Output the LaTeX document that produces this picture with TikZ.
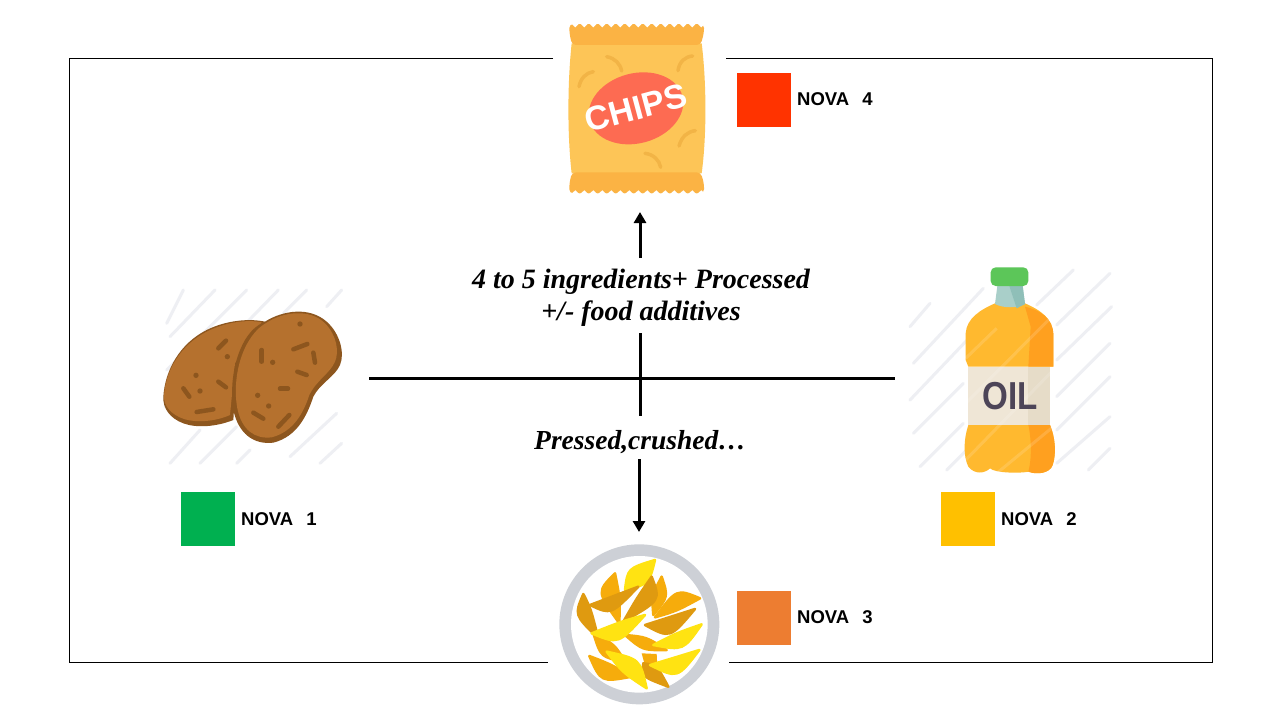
\documentclass[tikz,border=0pt]{standalone}
\usepackage{fontspec}
\setmainfont{Liberation Sans}
\newfontfamily\scriptfnt{Liberation Serif}
\usetikzlibrary{arrows.meta}
\definecolor{bagbody}{HTML}{FDC557}
\definecolor{bagband}{HTML}{FBB344}
\definecolor{bagmark}{HTML}{F2B446}
\definecolor{bagoval}{HTML}{FD6B52}
\definecolor{spud}{HTML}{B5712E}
\definecolor{spuddark}{HTML}{8D561E}
\definecolor{hatch}{HTML}{EEEFF3}
\definecolor{oilL}{HTML}{FFB92F}
\definecolor{oilR}{HTML}{FFA01F}
\definecolor{oillabel}{HTML}{EFE6D6}
\definecolor{oillabelR}{HTML}{E6DCC8}
\definecolor{neckL}{HTML}{A9CFC9}
\definecolor{neckR}{HTML}{8FBFB8}
\definecolor{oilcap}{HTML}{5CC659}
\definecolor{oilink}{HTML}{4D4558}
\definecolor{plate}{HTML}{CDD0D6}
\definecolor{friA}{HTML}{FFE312}
\definecolor{friB}{HTML}{F6AC0C}
\definecolor{friC}{HTML}{DF9A10}
\tikzset{
  novabox/.style={minimum size=54pt,inner sep=0pt,draw=none,anchor=north west},
  novatext/.style={font=\fontsize{18.5}{20}\selectfont\bfseries,anchor=west,inner sep=0pt},
  scripttext/.style={font=\scriptfnt\fontsize{28}{32}\selectfont\bfseries\itshape,align=center,inner sep=0pt},
  framelin/.style={draw=black,line width=1pt},
  axis/.style={draw=black,line width=3pt},
  flow/.style={draw=black,line width=3pt,-{Triangle[length=11pt,width=12pt]}},
  hatchlin/.style={draw=hatch,line width=3pt,line cap=round},
  zoomA/.style={x=0.33333pt,y=-0.33333pt,shift={(540pt,-10pt)}},
  zoomB/.style={x=0.33333pt,y=-0.33333pt,shift={(150pt,-280pt)}},
  zoomC/.style={x=0.33333pt,y=-0.33333pt,shift={(900pt,-260pt)}},
  zoomD/.style={x=0.33333pt,y=-0.33333pt,shift={(540pt,-530pt)}},
}
\newcommand{\fry}[5]{\filldraw[fill=#1,draw=#1,line width=2.5pt,line join=round] (#2) .. controls (#3) .. (#4) .. controls (#5) .. (#2) -- cycle;}
\begin{document}
\begin{tikzpicture}[x=1pt,y=-1pt]
\useasboundingbox (0,0) rectangle (1280,720);
\fill[white] (0,0) rectangle (1280,720);
% frame
\draw[framelin] (553,58) -- (69,58) -- (69,662) -- (548,662);
\draw[framelin] (726,58) -- (1212,58) -- (1212,662) -- (729,662);
% labels
\node[scripttext] (top) at (641,298) {4 to 5 ingredients+ Processed\\+/- food additives};
\node[scripttext,font=\scriptfnt\fontsize{27.5}{32}\selectfont\bfseries\itshape] (bot) at (640,442) {Pressed,crushed…};
% axes
\coordinate (axL) at (369,378);
\coordinate (axR) at (895,378);
\coordinate (axT) at (640,333);
\coordinate (axB) at (640,416);
\coordinate (upS) at (640,258);
\coordinate (upE) at (640,212);
\coordinate (dnS) at (639,459);
\coordinate (dnE) at (639,532);
\draw[axis] (axL) -- (axR);
\draw[axis] (axT) -- (axB);
\draw[flow] (upS) -- (upE);
\draw[flow] (dnS) -- (dnE);
% legend
\node[novabox,fill={rgb,255:red,255;green,51;blue,0}] (b4) at (737,73) {};
\node[novabox,fill={rgb,255:red,0;green,176;blue,80}] (b1) at (181,492) {};
\node[novabox,fill={rgb,255:red,255;green,192;blue,0}] (b2) at (941,492) {};
\node[novabox,fill={rgb,255:red,237;green,125;blue,49}] (b3) at (737,591) {};
\node[novatext] (n4) at (797,99.5) {NOVA\hspace{13pt}4};
\node[novatext] (n1) at (241,519.5) {NOVA\hspace{13pt}1};
\node[novatext] (n2) at (1001,519.5) {NOVA\hspace{13pt}2};
\node[novatext] (n3) at (797,617.5) {NOVA\hspace{13pt}3};
% chips bag
\begin{scope}[zoomA]
\fill[bagbody] (95,100) .. controls (82,220) and (82,380) .. (95,490) -- (485,490) .. controls (500,380) and (500,220) .. (485,100) -- cycle;
\fill[bagband,rounded corners=4pt] (88,42) -- (492,42) -- (492,68) -- (482,105) -- (96,105) -- (88,68) -- cycle;
\fill[bagband,rounded corners=4pt] (96,487) -- (482,487) -- (492,520) -- (492,550) -- (88,550) -- (88,520) -- cycle;
\foreach \i in {0,...,14} {
  \fill[white] ({92+\i*27},39) -- ({106+\i*27},52) -- ({119+\i*27},39) -- cycle;
  \fill[white] ({92+\i*27},553) -- ({106+\i*27},541) -- ({119+\i*27},553) -- cycle;
}
\draw[bagmark,line width=3.5pt,line cap=round] (200,140) .. controls (225,145) and (240,160) .. (245,183);
\draw[bagmark,line width=3.5pt,line cap=round] (458,138) .. controls (435,140) and (418,155) .. (414,182);
\draw[bagmark,line width=3.5pt,line cap=round] (160,185) .. controls (138,188) and (122,205) .. (117,230);
\draw[bagmark,line width=3.5pt,line cap=round] (466,362) .. controls (442,365) and (425,380) .. (417,408);
\draw[bagmark,line width=3.5pt,line cap=round] (315,430) .. controls (340,433) and (358,450) .. (362,472);
\fill[bagoval,rotate around={15:(288,295)}] (288,295) ellipse [x radius=144,y radius=105];
\node[text=white,font=\fontsize{34}{35}\selectfont\bfseries,rotate=15,inner sep=0pt] (chips) at (288,294) {CHIPS};
\end{scope}
% potato
\begin{scope}[zoomB]
\draw[hatchlin] (50,130) -- (100,30);
\draw[hatchlin] (60,170) -- (195,30);
\draw[hatchlin] (50,270) -- (290,30);
\draw[hatchlin] (45,380) -- (385,30);
\draw[hatchlin] (400,100) -- (470,30);
\draw[hatchlin] (530,80) -- (575,30);
\draw[hatchlin] (60,550) -- (150,450);
\draw[hatchlin] (150,550) -- (260,440);
\draw[hatchlin] (260,550) -- (300,510);
\draw[hatchlin] (420,530) -- (560,400);
\draw[hatchlin] (510,550) -- (575,490);
\fill[spuddark] (40,350) .. controls (45,270) and (90,190) .. (170,150) .. controls (230,120) and (300,115) .. (345,125) -- (260,260) -- (250,420) .. controls (200,440) and (140,445) .. (100,430) .. controls (60,415) and (38,385) .. (40,350) -- cycle;
\fill[spud] (42,345) .. controls (48,270) and (92,195) .. (170,155) .. controls (230,125) and (295,118) .. (335,127) -- (255,250) -- (240,405) .. controls (195,425) and (140,428) .. (105,418) .. controls (65,405) and (40,380) .. (42,345) -- cycle;
\fill[spuddark] (345,125) .. controls (400,90) and (480,80) .. (530,125) .. controls (570,160) and (585,220) .. (570,255) .. controls (555,290) and (510,310) .. (490,350) .. controls (470,410) and (440,470) .. (370,488) .. controls (310,495) and (265,460) .. (250,390) .. controls (240,320) and (250,240) .. (285,180) .. controls (300,155) and (320,135) .. (345,125) -- cycle;
\fill[spud] (350,128) .. controls (400,95) and (480,85) .. (525,130) .. controls (560,165) and (568,215) .. (555,245) .. controls (540,280) and (500,300) .. (478,345) .. controls (460,400) and (430,455) .. (365,472) .. controls (315,478) and (275,450) .. (262,385) .. controls (250,320) and (262,240) .. (295,185) .. controls (310,160) and (328,140) .. (350,128) -- cycle;
\foreach \xa/\ya/\xb/\yb in {228/182/205/205, 100/325/118/350, 205/305/228/322, 140/396/190/388, 335/210/335/245, 430/208/472/192, 490/218/495/248, 442/275/470/285, 390/326/414/326, 310/398/340/416, 385/440/418/405} {
  \draw[spuddark,line width=4.5pt,line cap=round] (\xa,\ya) -- (\xb,\yb);
}
\foreach \xa/\ya in {232/230, 138/286, 150/333, 450/132, 368/247, 323/346, 356/378} {
  \fill[spuddark] (\xa,\ya) circle (8);
}
\end{scope}
% oil bottle
\begin{scope}[zoomC]
\foreach \xa/\ya/\xb/\yb in {30/200/90/130, 40/310/250/85, 30/420/230/210, 40/520/190/370, 60/620/190/490, 140/630/200/570, 410/135/520/30, 470/195/630/40, 470/300/635/140, 470/410/630/250, 470/510/630/350, 470/610/630/470, 565/630/630/565} {
  \draw[hatchlin] (\xa,\ya) -- (\xb,\yb);
}
\fill[oilL] (285,130) -- (375,130) .. controls (420,150) and (460,175) .. (460,225) -- (460,320) -- (205,320) -- (197,300) -- (197,220) .. controls (200,175) and (240,150) .. (285,130) -- cycle;
\fill[oilR] (375,140) .. controls (420,150) and (460,175) .. (460,225) -- (460,320) -- (385,320) -- (392,200) -- cycle;
\fill[oilL] (205,495) .. controls (190,540) and (190,590) .. (205,620) .. controls (225,645) and (255,640) .. (270,625) .. controls (285,640) and (365,640) .. (385,635) .. controls (410,645) and (450,640) .. (458,615) .. controls (470,580) and (465,530) .. (450,495) -- cycle;
\fill[oilR] (385,495) .. controls (395,540) and (395,600) .. (385,635) .. controls (410,645) and (450,640) .. (458,615) .. controls (470,580) and (465,530) .. (450,495) -- cycle;
\fill[oillabel] (205,320) rectangle (450,495);
\fill[oillabelR] (385,320) rectangle (450,495);
\fill[neckL] (292,78) -- (368,78) -- (375,132) .. controls (350,145) and (310,145) .. (285,132) -- cycle;
\fill[neckR] (328,78) -- (368,78) -- (375,132) -- (350,145) -- cycle;
\fill[oilcap,rounded corners=5pt] (272,22) rectangle (385,78);
\foreach \xa/\ya/\xb/\yb in {197/295/290/205, 197/430/460/165, 197/600/460/330, 290/640/460/500} {
  \draw[white,opacity=0.14,line width=3pt] (\xa,\ya) -- (\xb,\yb);
}
\node[text=oilink,font=\fontsize{39}{39}\selectfont\bfseries,inner sep=0pt] (oil) at (330,407) {\scalebox{0.85}[1]{OIL}};
\end{scope}
% plate
\begin{scope}[zoomD]
\fill[plate] (298,283) circle (240);
\fill[white] (298,283) circle (205);
\fry{friA}{345,90}{263,115}{255,180}{327,162}
\fry{friB}{225,130}{170,185}{238,280}{240,205}
\fry{friB}{365,140}{335,197}{340,255}{385,200}
\fry{friC}{335,140}{362,211}{250,275}{290,205}
\fry{friC}{295,170}{222,197}{150,225}{213,255}
\fry{friB}{480,205}{410,176}{345,262}{410,243}
\fry{friC}{465,237}{390,262}{315,285}{390,326}
\fry{friC}{130,192}{103,255}{175,325}{152,235}
\fry{friB}{160,310}{183,382}{255,395}{224,343}
\fry{friB}{255,315}{320,321}{380,360}{308,361}
\fry{friA}{315,255}{248,273}{155,310}{235,343}
\fry{friA}{485,283}{410,309}{340,345}{430,362}
\fry{friB}{148,378}{183,457}{275,440}{215,404}
\fill[friB] (305,370) -- (350,372) -- (352,410) -- (320,425) -- cycle;
\fry{friC}{310,400}{305,440}{385,470}{350,405}
\fry{friA}{200,365}{300,387}{320,475}{247,427}
\fry{friA}{478,360}{400,384}{330,405}{412,446}
\end{scope}
\end{tikzpicture}
\end{document}
